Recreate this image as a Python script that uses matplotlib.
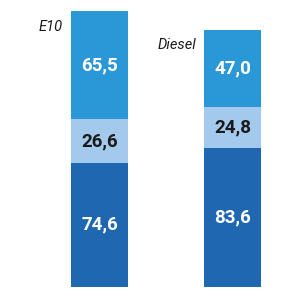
import matplotlib
matplotlib.use("Agg")
import matplotlib.pyplot as plt
from matplotlib import font_manager

categories = ["E10", "Diesel"]
bottom_vals = [74.6, 83.6]
middle_vals = [26.6, 24.8]
top_vals = [65.5, 47.0]

names = {f.name for f in font_manager.fontManager.ttflist}
num_font = "Liberation Sans Narrow" if "Liberation Sans Narrow" in names else "Roboto"
lab_font = "Roboto"

colors = ["#1f67b1", "#a3c9ec", "#2a97d6"]
text_colors = ["white", "#1a1a1a", "white"]

fig = plt.figure(figsize=(3, 3), dpi=100)
ax = fig.add_axes([0, 13.5 / 300, 1, 286.5 / 300])
x = [0, 1]
width = 0.427
series = [bottom_vals, middle_vals, top_vals]
base = [0.0, 0.0]
for vals, c, tc in zip(series, colors, text_colors):
    ax.bar(x, vals, width, bottom=base, color=c, linewidth=0)
    for xi, v, b in zip(x, vals, base):
        ax.text(xi, b + v / 2, f"{v:.1f}".replace(".", ","), ha="center", va="center",
                color=tc, fontsize=13.5, fontweight="bold", family=[num_font, "DejaVu Sans"])
    base = [b + v for b, v in zip(base, vals)]

for xi, cat, tot in zip(x, categories, base):
    ax.text(xi - width / 2 - 0.06, tot - 9.5, cat, ha="right", va="center",
            fontsize=10.5, fontstyle="italic", color="#1a1a1a", family=[lab_font, "DejaVu Sans"])

ax.set_xlim(-0.745, 1.502)
ax.set_ylim(0, 286.5 / 1.653)
ax.axis("off")
fig.savefig("out.png", dpi=100)
